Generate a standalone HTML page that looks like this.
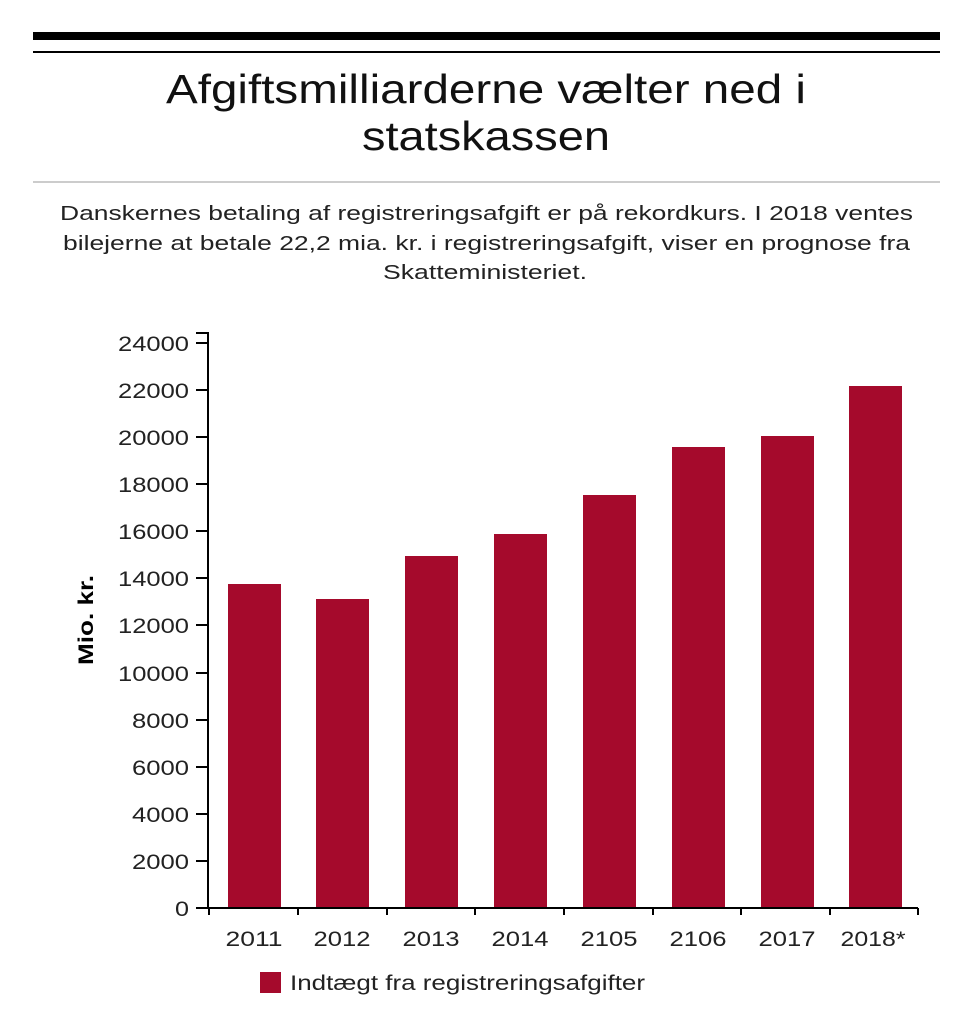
<!DOCTYPE html>
<html><head><meta charset="utf-8"><style>
html,body{margin:0;padding:0;background:#fff;}
svg{display:block;font-family:"Liberation Sans",Arial,sans-serif;}
</style></head><body>
<svg width="960" height="1027" viewBox="0 0 960 1027" xmlns="http://www.w3.org/2000/svg">
<rect x="33" y="32" width="907" height="8" fill="#000"/>
<rect x="33" y="51" width="907" height="2" fill="#000"/>
<text x="166" y="103" font-size="41" textLength="640" lengthAdjust="spacingAndGlyphs" fill="#111">Afgiftsmilliarderne vælter ned i</text>
<text x="362" y="150" font-size="41" textLength="248" lengthAdjust="spacingAndGlyphs" fill="#111">statskassen</text>
<rect x="33" y="181" width="907" height="2" fill="#ccc"/>
<g font-size="20" fill="#222">
<text x="60" y="220" textLength="853" lengthAdjust="spacingAndGlyphs">Danskernes betaling af registreringsafgift er på rekordkurs. I 2018 ventes</text>
<text x="63" y="250" textLength="847" lengthAdjust="spacingAndGlyphs">bilejerne at betale 22,2 mia. kr. i registreringsafgift, viser en prognose fra</text>
<text x="383" y="279" textLength="204" lengthAdjust="spacingAndGlyphs">Skatteministeriet.</text>
</g>
<g fill="#a50a2c">
<rect x="228" y="584" width="53" height="324"/>
<rect x="316" y="599" width="53" height="309"/>
<rect x="405" y="556" width="53" height="352"/>
<rect x="494" y="534" width="53" height="374"/>
<rect x="583" y="495" width="53" height="413"/>
<rect x="672" y="447" width="53" height="461"/>
<rect x="761" y="436" width="53" height="472"/>
<rect x="849" y="386" width="53" height="522"/>
</g>
<g stroke="#000" stroke-width="2" fill="none">
<path d="M196,333H208V908"/>
<path d="M196,908H918"/>
<path d="M209,908v7M298,908v7M387,908v7M475,908v7M564,908v7M653,908v7M741,908v7M830,908v7M918,908v7"/>
<path d="M196,343h12M196,390h12M196,437h12M196,484h12M196,531h12M196,578h12M196,625h12M196,673h12M196,720h12M196,767h12M196,814h12M196,861h12"/>
</g>
<g font-size="21" text-anchor="end" fill="#222">
<text x="189" y="351" textLength="71" lengthAdjust="spacingAndGlyphs">24000</text><text x="189" y="398" textLength="71" lengthAdjust="spacingAndGlyphs">22000</text><text x="189" y="445" textLength="71" lengthAdjust="spacingAndGlyphs">20000</text>
<text x="189" y="492" textLength="71" lengthAdjust="spacingAndGlyphs">18000</text><text x="189" y="539" textLength="71" lengthAdjust="spacingAndGlyphs">16000</text><text x="189" y="586" textLength="71" lengthAdjust="spacingAndGlyphs">14000</text>
<text x="189" y="633" textLength="71" lengthAdjust="spacingAndGlyphs">12000</text><text x="189" y="681" textLength="71" lengthAdjust="spacingAndGlyphs">10000</text><text x="189" y="728" textLength="57" lengthAdjust="spacingAndGlyphs">8000</text>
<text x="189" y="775" textLength="57" lengthAdjust="spacingAndGlyphs">6000</text><text x="189" y="822" textLength="57" lengthAdjust="spacingAndGlyphs">4000</text><text x="189" y="869" textLength="57" lengthAdjust="spacingAndGlyphs">2000</text>
<text x="189" y="916" textLength="14" lengthAdjust="spacingAndGlyphs">0</text>
</g>
<g font-size="21" text-anchor="middle" fill="#222">
<text x="254" y="946" textLength="57" lengthAdjust="spacingAndGlyphs">2011</text><text x="342" y="946" textLength="57" lengthAdjust="spacingAndGlyphs">2012</text><text x="431" y="946" textLength="57" lengthAdjust="spacingAndGlyphs">2013</text>
<text x="520" y="946" textLength="57" lengthAdjust="spacingAndGlyphs">2014</text><text x="609" y="946" textLength="57" lengthAdjust="spacingAndGlyphs">2105</text><text x="698" y="946" textLength="57" lengthAdjust="spacingAndGlyphs">2106</text>
<text x="787" y="946" textLength="57" lengthAdjust="spacingAndGlyphs">2017</text><text x="873" y="946" textLength="65" lengthAdjust="spacingAndGlyphs">2018*</text>
</g>
<text transform="translate(93,620) rotate(-90)" font-size="21" font-weight="bold" text-anchor="middle" fill="#000" textLength="90" lengthAdjust="spacingAndGlyphs">Mio. kr.</text>
<rect x="260" y="972" width="21" height="21" fill="#a50a2c"/>
<text x="290" y="990" font-size="21" fill="#222" textLength="355" lengthAdjust="spacingAndGlyphs">Indtægt fra registreringsafgifter</text>
</svg>
</body></html>
